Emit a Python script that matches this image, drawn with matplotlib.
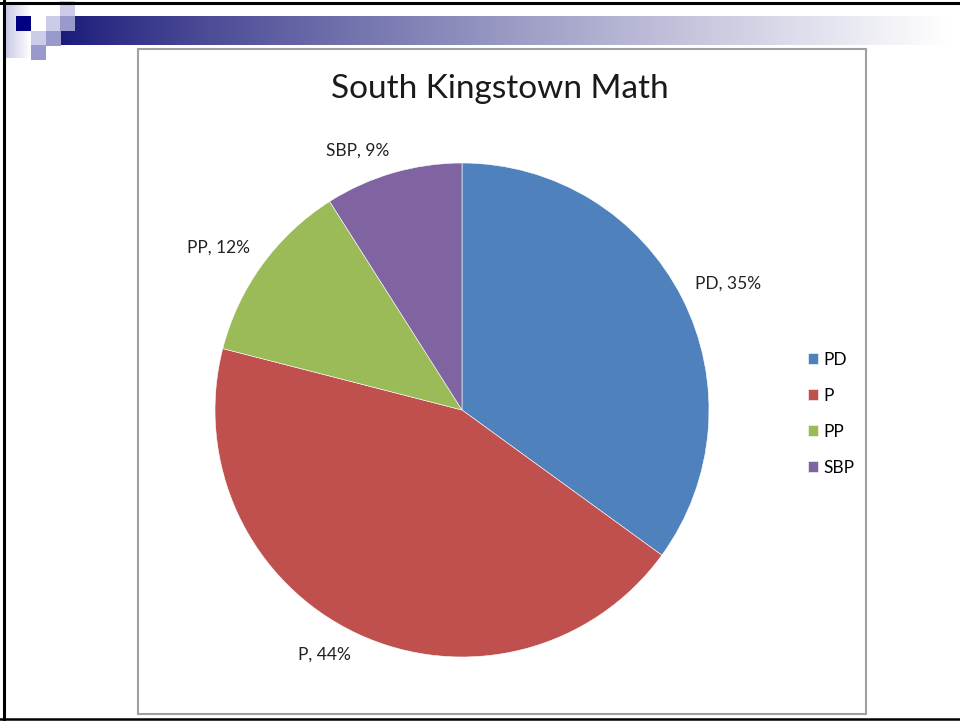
import matplotlib.pyplot as plt
import numpy as np
from matplotlib.patches import Rectangle

# данные диаграммы
categories = ['PD', 'P', 'PP', 'SBP']
shares = [35, 44, 12, 9]
colors = ['#4F81BD', '#C0504D', '#9BBB59', '#8064A2']
title = 'South Kingstown Math'

W, H = 960, 721
fig = plt.figure(figsize=(W / 100, H / 100), dpi=100)

# фон слайда в пикселях
bg = fig.add_axes([0, 0, 1, 1])
bg.set_xlim(0, W)
bg.set_ylim(H, 0)
bg.axis('off')

# градиентная полоса сверху
grad = np.linspace(0, 1, 400) ** 0.85
c0 = np.array([0x1a, 0x1a, 0x7a]) / 255
c1 = np.array([1.0, 1.0, 1.0])
bar = c0[None, :] * (1 - grad[:, None]) + c1[None, :] * grad[:, None]
bg.imshow(bar[None, :, :], extent=[60, 950, 45, 16], aspect='auto', zorder=1)

# светлая полоска слева
g2 = np.linspace(0, 1, 50)
l0 = np.array([0xc8, 0xc8, 0xe6]) / 255
strip = l0[None, :] * (1 - g2[:, None]) + c1[None, :] * g2[:, None]
bg.imshow(strip[None, :, :], extent=[5, 31, 58, 5], aspect='auto', zorder=1)

# квадратики
light, mid, navy = '#CCCCE8', '#9999CC', '#000080'
for x, y, c in [(60, 1, light), (46, 16, light), (31, 31, light),
                (60, 16, mid), (46, 31, mid), (31, 45, mid), (16, 16, navy)]:
    bg.add_patch(Rectangle((x, y), 15, 15, color=c, lw=0, zorder=2))

# рамка слайда
bg.plot([0, W], [3, 3], color='black', lw=2.2, zorder=3)
bg.plot([4, 4], [0, H], color='black', lw=2.2, zorder=3)
bg.plot([0, W], [719, 719], color='black', lw=1.8, zorder=3)

# рамка диаграммы
bg.add_patch(Rectangle((138, 49), 728, 665, fill=False, ec='#A0A0A0', lw=1.5, zorder=3))

fig.text(500 / W, 1 - 89 / H, title, fontsize=24, family='Lato',
         ha='center', va='center', color='#1a1a1a')

# круговая диаграмма
cx, cy, r = 462, 410, 247
ax = fig.add_axes([(cx - r) / W, (H - cy - r) / H, 2 * r / W, 2 * r / H])
wedges, _ = ax.pie(shares, colors=colors, startangle=90, counterclock=False,
                   wedgeprops=dict(edgecolor='white', linewidth=0.4))
ax.set_xlim(-1, 1)
ax.set_ylim(-1, 1)

# подписи как в Excel: угол рамки текста у края круга
for w, c, v in zip(wedges, categories, shares):
    ang = np.deg2rad((w.theta1 + w.theta2) / 2)
    x, y = 1.06 * np.cos(ang), 1.06 * np.sin(ang)
    ax.text(x, y, f'{c}, {v}%', fontsize=12.5, family='Lato', color='#222222',
            ha='left' if x > 0 else 'right', va='bottom' if y > 0 else 'top')

fig.legend(wedges, categories, loc='upper left',
           bbox_to_anchor=(799 / W, 1 - 343 / H), frameon=False,
           prop=dict(family='Lato', size=12.5), handlelength=0.6, handleheight=0.6,
           handletextpad=0.3, labelspacing=1.15, borderpad=0)

fig.savefig('out.png', dpi=100)
